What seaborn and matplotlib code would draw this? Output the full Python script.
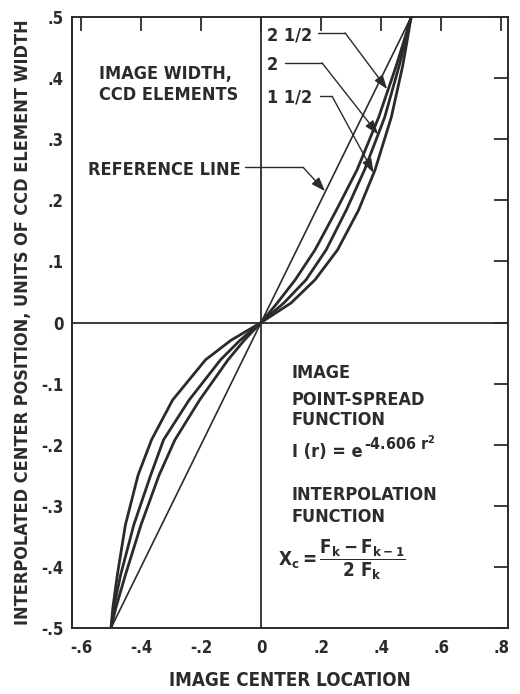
import matplotlib
matplotlib.use("Agg")
import matplotlib.pyplot as plt
import seaborn as sns
import pandas as pd

# ---- data ----
y_levels = [-0.5, -0.467, -0.413, -0.331, -0.25, -0.192, -0.127, -0.061, -0.029, 0.0,
            0.032, 0.07, 0.119, 0.184, 0.25, 0.336, 0.418, 0.459, 0.5]
x_w15 = [-0.5, -0.494, -0.479, -0.452, -0.41, -0.365, -0.295, -0.185, -0.1, 0.0,
         0.1, 0.18, 0.255, 0.325, 0.38, 0.434, 0.471, 0.486, 0.5]
x_w20 = [-0.5, -0.491, -0.468, -0.424, -0.368, -0.325, -0.24, -0.135, -0.07, 0.0,
         0.076, 0.15, 0.217, 0.284, 0.345, 0.412, 0.459, 0.48, 0.5]
x_w25 = [-0.5, -0.484, -0.452, -0.4, -0.34, -0.287, -0.205, -0.11, -0.056, 0.0,
         0.054, 0.114, 0.18, 0.251, 0.32, 0.392, 0.449, 0.475, 0.5]
ref_x = [-0.5, 0.5]
ref_y = [-0.5, 0.5]

x_ticks = [-0.6, -0.4, -0.2, 0.0, 0.2, 0.4, 0.6, 0.8]
x_tick_labels = ["-.6", "-.4", "-.2", "0", ".2", ".4", ".6", ".8"]
y_ticks = [-0.5, -0.4, -0.3, -0.2, -0.1, 0.0, 0.1, 0.2, 0.3, 0.4, 0.5]
y_tick_labels = ["-.5", "-.4", "-.3", "-.2", "-.1", "0", ".1", ".2", ".3", ".4", ".5"]

rows = []
for name, xs in [("1 1/2", x_w15), ("2", x_w20), ("2 1/2", x_w25)]:
    for xv, yv in zip(xs, y_levels):
        rows.append({"x": xv, "y": yv, "width": name})
df = pd.DataFrame(rows)
df_ref = pd.DataFrame({"x": ref_x, "y": ref_y})

sns.set_theme(style="white")
plt.rcParams["font.family"] = ["DejaVu Sans"]
plt.rcParams["font.stretch"] = "condensed"
plt.rcParams["font.weight"] = "bold"
plt.rcParams["mathtext.fontset"] = "custom"
plt.rcParams["mathtext.rm"] = "DejaVu Sans:bold"
plt.rcParams["mathtext.it"] = "DejaVu Sans:bold"
plt.rcParams["mathtext.bf"] = "DejaVu Sans:bold"
plt.rcParams["mathtext.sf"] = "DejaVu Sans:bold"

INK = "#2b2b2b"

fig = plt.figure(figsize=(5.2, 6.94), dpi=100)
ax = fig.add_axes([0.1385, 0.0951, 0.8385, 0.8804])

sns.lineplot(data=df, x="x", y="y", hue="width",
             palette={"1 1/2": INK, "2": INK, "2 1/2": INK},
             sort=False, estimator=None, linewidth=2.0, legend=False, ax=ax)
sns.lineplot(data=df_ref, x="x", y="y", color=INK, linewidth=1.2,
             sort=False, estimator=None, ax=ax)

ax.axhline(0, color=INK, lw=1.3, zorder=1)
ax.axvline(0, color=INK, lw=1.3, zorder=1)

ax.set_xlim(-0.63, 0.823)
ax.set_ylim(-0.5, 0.5)
ax.set_xticks(x_ticks)
ax.set_xticklabels(x_tick_labels)
ax.set_yticks(y_ticks)
ax.set_yticklabels(y_tick_labels)
ax.tick_params(direction="in", length=10, width=1.3, color=INK,
               top=True, right=True, labelsize=12, labelcolor=INK)
ax.tick_params(axis="x", pad=8)
ax.tick_params(axis="y", pad=6)
for s in ax.spines.values():
    s.set_color(INK)
    s.set_linewidth(1.4)

ax.set_xlabel("IMAGE CENTER LOCATION", fontsize=13.5, color=INK,
              fontweight="bold", labelpad=10)
ax.set_ylabel("INTERPOLATED CENTER POSITION, UNITS OF CCD ELEMENT WIDTH",
              fontsize=13, color=INK, fontweight="bold", labelpad=7)

tk = dict(color=INK, fontsize=13, ha="left", va="center")
ax.text(-0.54, 0.389, "IMAGE WIDTH,\nCCD ELEMENTS", linespacing=1.2, **tk)
ax.text(-0.577, 0.2496, "REFERENCE LINE", **tk)
ax.text(0.02, 0.47, "2 1/2", **tk)
ax.text(0.02, 0.421, "2", **tk)
ax.text(0.02, 0.369, "1 1/2", **tk)

ax.text(0.103, -0.083, "IMAGE", **tk)
ax.text(0.103, -0.127, "POINT-SPREAD", **tk)
ax.text(0.103, -0.160, "FUNCTION", **tk)
t_psf = ax.text(0.103, -0.212, "I (r) = e", **tk)
ax.annotate(r"-4.606 r$^{2}$", xy=(1.0, 0.95), xycoords=t_psf,
            xytext=(1, 0), textcoords="offset points",
            color=INK, fontsize=11.5, ha="left", va="center")
ax.text(0.103, -0.282, "INTERPOLATION", **tk)
ax.text(0.103, -0.318, "FUNCTION", **tk)
ax.text(0.057, -0.389, r"$X_c = \dfrac{F_k - F_{k-1}}{2\ F_k}$", color=INK,
        fontsize=13.5, ha="left", va="center")

# leader lines with arrows
leaders = [
    ((-0.055, 0.254), (0.14, 0.254), (0.213, 0.215)),
    ((0.19, 0.474), (0.28, 0.474), (0.42, 0.382)),
    ((0.08, 0.425), (0.203, 0.425), (0.39, 0.308)),
    ((0.197, 0.37), (0.237, 0.37), (0.375, 0.245)),
]
for start, corner, tip in leaders:
    ax.plot([start[0], corner[0]], [start[1], corner[1]], color=INK, lw=1.0)
    ax.annotate("", xy=tip, xytext=corner,
                arrowprops=dict(arrowstyle="-|>,head_length=0.7,head_width=0.25",
                                color=INK, lw=1.0, shrinkA=0, shrinkB=0))

fig.savefig("out.png", dpi=100)
